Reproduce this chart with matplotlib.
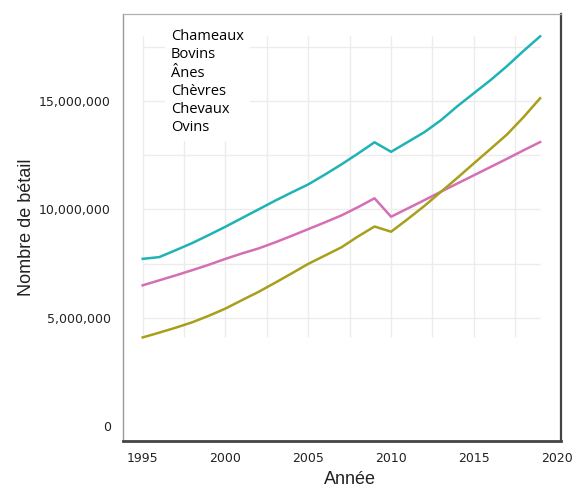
import matplotlib
matplotlib.use('Agg')
import matplotlib.pyplot as plt
from matplotlib.lines import Line2D
from matplotlib.ticker import FuncFormatter
import numpy as np

# données (en millions de têtes)
annees = list(range(1995, 2020))
chevres = [7.72, 7.80, 8.12, 8.45, 8.82, 9.20, 9.60, 10.00, 10.40, 10.78,
           11.15, 11.60, 12.07, 12.57, 13.09, 12.65, 13.10, 13.55, 14.10, 14.75,
           15.35, 15.95, 16.60, 17.30, 17.97]
ovins = [6.50, 6.73, 6.96, 7.20, 7.45, 7.72, 7.97, 8.20, 8.48, 8.78,
         9.09, 9.40, 9.72, 10.10, 10.51, 9.66, 10.04, 10.42, 10.81, 11.19,
         11.57, 11.95, 12.33, 12.72, 13.10]
bovins = [4.10, 4.32, 4.55, 4.80, 5.10, 5.43, 5.82, 6.20, 6.62, 7.05,
          7.49, 7.87, 8.25, 8.75, 9.21, 8.97, 9.55, 10.15, 10.80, 11.45,
          12.12, 12.78, 13.45, 14.25, 15.12]
legende = ['Chameaux', 'Bovins', 'Ânes', 'Chèvres', 'Chevaux', 'Ovins']
y_ticks = [0, 5e6, 10e6, 15e6]
x_ticks = [1995, 2000, 2005, 2010, 2015, 2020]

fig = plt.figure(figsize=(5.82, 4.87), dpi=100)
ax = fig.add_axes([0.2113, 0.0945, 0.7526, 0.8768])

series = [
    (np.array(chevres) * 1e6, '#1fb3b6'),
    (np.array(ovins) * 1e6, '#d46fb6'),
    (np.array(bovins) * 1e6, '#a99f1c'),
]

# grille limitée à l'étendue des données
tous = np.concatenate([s for s, _ in series])
y_min, y_max = tous.min(), tous.max()
x_min, x_max = annees[0], annees[-1]
ax.vlines(np.arange(1995, 2019, 2.5), y_min, y_max, color='#ececec', lw=1, zorder=0)
ax.hlines(np.arange(5e6, 18e6, 2.5e6), x_min, x_max, color='#ececec', lw=1, zorder=0)

for valeurs, couleur in series:
    ax.plot(annees, valeurs, color=couleur, lw=1.8, zorder=3)

ax.set_xlim(1993.81, 2020.26)
ax.set_ylim(-0.67e6, 19.0e6)
ax.set_xticks(x_ticks)
ax.set_yticks(y_ticks)
ax.yaxis.set_major_formatter(FuncFormatter(lambda v, p: f'{int(v):,}'))
ax.tick_params(axis='both', length=0, labelsize=9, colors='#222222')
ax.tick_params(axis='y', pad=8.6)
ax.tick_params(axis='x', pad=8)

# cadre: gauche/haut clairs, bas/droite sombres
ax.spines['left'].set_color('#999999')
ax.spines['left'].set_linewidth(1.0)
ax.spines['top'].set_color('#b0b0b0')
ax.spines['top'].set_linewidth(0.9)
ax.spines['bottom'].set_color('#444444')
ax.spines['bottom'].set_linewidth(2.0)
ax.spines['right'].set_color('#444444')
ax.spines['right'].set_linewidth(1.6)

ax.set_xlabel('Année', fontsize=13, family='Liberation Sans', color='#222222')
ax.set_ylabel('Nombre de bétail', fontsize=13, family='Liberation Sans', color='#222222')
ax.xaxis.set_label_coords(0.518, -0.07)
ax.yaxis.set_label_coords(-0.20, 0.5)

poignees = [Line2D([], [], linestyle='none') for _ in legende]
leg = ax.legend(poignees, legende, loc='upper left', bbox_to_anchor=(0.096, 0.978),
                handlelength=0, handletextpad=0, borderaxespad=0, borderpad=0.4,
                labelspacing=0.22, prop={'family': 'Open Sans', 'size': 10.5},
                frameon=True, facecolor='white', edgecolor='none', framealpha=1)
leg.set_zorder(5)

fig.savefig('out.png', dpi=100, facecolor='white')
